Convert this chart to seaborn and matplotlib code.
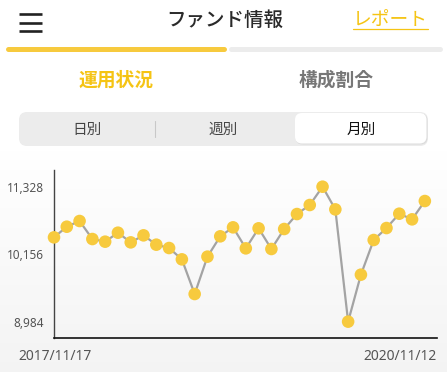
import numpy as np
import matplotlib.pyplot as plt
import seaborn as sns
import pandas as pd
from matplotlib.patches import FancyBboxPatch

# values
nav_values = [10448, 10633, 10732, 10419, 10373, 10529, 10361, 10483, 10321, 10263,
              10066, 9464, 10113, 10466, 10622, 10257, 10605, 10246, 10593, 10853,
              11010, 11328, 10934, 8984, 9800, 10402, 10610, 10859, 10761, 11079]
y_ticks = [8984, 10156, 11328]
start_label = '2017/11/17'
end_label = '2020/11/12'
tab_labels = ['運用状況', '構成割合']
period_labels = ['日別', '週別', '月別']

YELLOW = '#f7ca3e'
YELLOW_TXT = '#f5c414'
NUM_FONT = ['Noto Sans', 'DejaVu Sans']
W, H = 447, 372

sns.set_theme(style='white')
plt.rcParams['font.family'] = ['Noto Sans CJK JP', 'DejaVu Sans']

df = pd.DataFrame({'idx': np.arange(len(nav_values)), 'nav': nav_values})

fig = plt.figure(figsize=(W / 100, H / 100), dpi=100)

# background with light gradient
bg = fig.add_axes([0, 0, 1, 1])
grad = np.ones((H, 1))
grad[150:, 0] = np.linspace(1.0, 0.955, H - 150)
bg.imshow(np.dstack([grad, grad, grad]), aspect='auto', extent=[0, W, H, 0])
bg.set_xlim(0, W)
bg.set_ylim(H, 0)
bg.axis('off')

# header
for yy in [14, 22.5, 31]:
    bg.plot([19, 42], [yy, yy], color='#222222', lw=1.9, solid_capstyle='butt')
bg.text(225, 20, 'ファンド情報', ha='center', va='center', fontsize=14,
        fontweight='medium', color='#2a2a2a')
bg.text(390, 19, 'レポート', ha='center', va='center', fontsize=13.5, color=YELLOW_TXT)
bg.plot([353, 428], [28.5, 28.5], color=YELLOW_TXT, lw=0.9)
bg.plot([8, 224], [48.5, 48.5], color=YELLOW, lw=3.6, solid_capstyle='round')
bg.plot([231, 440], [48.5, 48.5], color='#ececec', lw=3.6, solid_capstyle='round')

# tabs
bg.text(116, 80, tab_labels[0], ha='center', va='center', fontsize=13.5,
        fontweight='bold', color=YELLOW_TXT)
bg.text(336, 80, tab_labels[1], ha='center', va='center', fontsize=13.5,
        fontweight='bold', color='#777777')

# segmented control
bg.add_patch(FancyBboxPatch((19, 112), 409, 34, boxstyle='round,pad=0,rounding_size=8',
                            fc='#ececec', ec='none'))
bg.add_patch(FancyBboxPatch((295.5, 113.5), 132, 31, boxstyle='round,pad=0,rounding_size=7',
                            fc='#dcdcdc', ec='none'))
bg.add_patch(FancyBboxPatch((295, 113), 131.5, 30.5, boxstyle='round,pad=0,rounding_size=7',
                            fc='white', ec='none'))
bg.plot([154.5, 154.5], [121, 137], color='#c8c8c8', lw=0.8)
for cx, lab, col in zip([87, 223, 361], period_labels, ['#444444', '#444444', '#111111']):
    bg.text(cx, 129.5, lab, ha='center', va='center', fontsize=10.5, color=col)

# chart
ax = fig.add_axes([54 / W, 1 - 338 / H, (437 - 54) / W, (338 - 170) / H])
ax.set_facecolor('none')
sns.lineplot(data=df, x='idx', y='nav', color='#a3a3a3', lw=1.6, ax=ax)
sns.scatterplot(data=df, x='idx', y='nav', color=YELLOW, s=82, edgecolor='none',
                ax=ax, clip_on=False, zorder=3)
ax.set_xlim(0, 29.95)
ax.set_ylim(8700, 11618)
ax.set_yticks(y_ticks)
ax.set_yticklabels([f'{v:,}' for v in y_ticks], fontsize=8.5, color='#555555',
                   family=NUM_FONT)
ax.set_xticks([len(nav_values) - 1])
ax.set_xticklabels([''])
ax.tick_params(axis='x', direction='in', length=8.5, width=1, color='#111111', pad=0)
ax.tick_params(axis='y', length=0, pad=7)
ax.set_xlabel('')
ax.set_ylabel('')
for s in ['top', 'right']:
    ax.spines[s].set_visible(False)
ax.spines['left'].set_color('#444444')
ax.spines['left'].set_linewidth(1.0)
ax.spines['bottom'].set_color('#111111')
ax.spines['bottom'].set_linewidth(1.2)

bg.text(55, 357, start_label, ha='center', va='center', fontsize=10,
        color='#555555', family=NUM_FONT)
bg.text(437, 357, end_label, ha='right', va='center', fontsize=10,
        color='#555555', family=NUM_FONT)

fig.savefig('out.png', dpi=100)
